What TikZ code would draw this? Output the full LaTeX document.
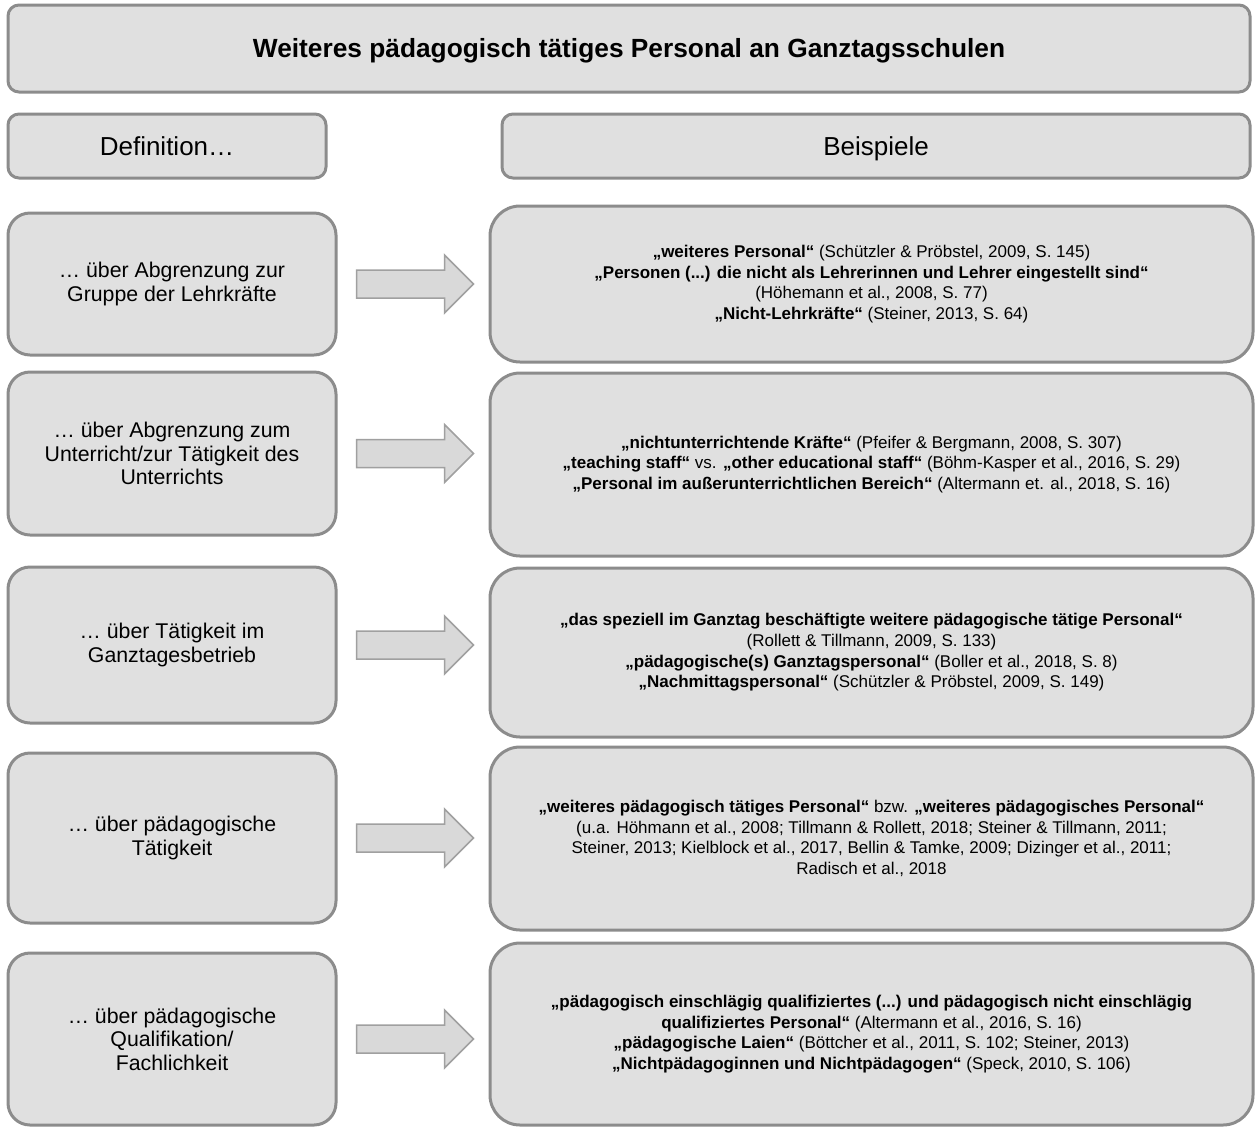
\documentclass[tikz,border=0pt]{standalone}
\usepackage{fontspec}
\setmainfont{Liberation Sans}
\definecolor{boxfill}{HTML}{E0E0E0}
\definecolor{boxline}{HTML}{8C8C8C}
\definecolor{arrowfill}{HTML}{D9D9D9}
\definecolor{arrowline}{HTML}{A0A0A0}
\begin{document}
\begin{tikzpicture}[x=1pt,y=-1pt,
  panel/.style={draw=boxline, fill=boxfill, line width=3pt, align=center, inner sep=0pt},
  headbox/.style={panel, rounded corners=11pt, text depth=0pt},
  defbox/.style={panel, rounded corners=22pt, minimum width=328pt,
    font=\fontsize{21.3}{23.5}\selectfont},
  exbox/.style={panel, rounded corners=30pt, minimum width=763pt,
    font=\fontsize{17}{20.6}\selectfont},
  blockarrow/.style={draw=arrowline, fill=arrowfill, line width=1.5pt, line join=miter}
]
\useasboundingbox (0,0) rectangle (1258,1128);

% title and column headings
\node[headbox, minimum width=1242pt, minimum height=87pt, text height=17pt,
  font=\bfseries\fontsize{26.3}{30}\selectfont] (title) at (629,48.5)
  {Weiteres pädagogisch tätiges Personal an Ganztagsschulen};
\node[headbox, minimum width=318pt, minimum height=64pt, text height=18.5pt,
  font=\fontsize{26}{30}\selectfont] (hdef) at (167,146) {Definition…};
\node[headbox, minimum width=748pt, minimum height=64pt, text height=18.5pt,
  font=\fontsize{26}{30}\selectfont] (hex) at (876,146) {Beispiele};

% definitions (left column)
\node[defbox, minimum height=142pt] (d1) at (172,284)
  {… über Abgrenzung zur\\Gruppe der Lehrkräfte};
\node[defbox, minimum height=163pt] (d2) at (172,453.5)
  {… über Abgrenzung zum\\Unterricht/zur Tätigkeit des\\Unterrichts};
\node[defbox, minimum height=156pt] (d3) at (172,645)
  {… über Tätigkeit im\\Ganztagesbetrieb};
\node[defbox, minimum height=170pt] (d4) at (172,838)
  {… über pädagogische\\Tätigkeit};
\node[defbox, minimum height=172pt] (d5) at (172,1039)
  {… über pädagogische\\Qualifikation/\\Fachlichkeit};

% examples (right column)
\node[exbox, minimum height=156pt] (e1) at (871.5,284)
  {\textbf{„weiteres Personal“} (Schützler \& Pröbstel, 2009, S. 145)\\
   \textbf{„Personen (...) die nicht als Lehrerinnen und Lehrer eingestellt sind“}\\
   (Höhemann et al., 2008, S. 77)\\
   \textbf{„Nicht-Lehrkräfte“} (Steiner, 2013, S. 64)};
\node[exbox, minimum height=183pt] (e2) at (871.5,464.5)
  {\textbf{„nichtunterrichtende Kräfte“} (Pfeifer \& Bergmann, 2008, S. 307)\\
   \textbf{„teaching staff“} vs. \textbf{„other educational staff“} (Böhm-Kasper et al., 2016, S. 29)\\
   \textbf{„Personal im außerunterrichtlichen Bereich“} (Altermann et. al., 2018, S. 16)};
\node[exbox, minimum height=169pt] (e3) at (871.5,652.5)
  {\textbf{„das speziell im Ganztag beschäftigte weitere pädagogische tätige Personal“}\\
   (Rollett \& Tillmann, 2009, S. 133)\\
   \textbf{„pädagogische(s) Ganztagspersonal“} (Boller et al., 2018, S. 8)\\
   \textbf{„Nachmittagspersonal“} (Schützler \& Pröbstel, 2009, S. 149)};
\node[exbox, minimum height=183pt] (e4) at (871.5,838.5)
  {\textbf{„weiteres pädagogisch tätiges Personal“} bzw. \textbf{„weiteres pädagogisches Personal“}\\
   (u.a. Höhmann et al., 2008; Tillmann \& Rollett, 2018; Steiner \& Tillmann, 2011;\\
   Steiner, 2013; Kielblock et al., 2017, Bellin \& Tamke, 2009; Dizinger et al., 2011;\\
   Radisch et al., 2018};
\node[exbox, minimum height=182pt] (e5) at (871.5,1034)
  {\textbf{„pädagogisch einschlägig qualifiziertes (...) und pädagogisch nicht einschlägig}\\
   \textbf{qualifiziertes Personal“} (Altermann et al., 2016, S. 16)\\
   \textbf{„pädagogische Laien“} (Böttcher et al., 2011, S. 102; Steiner, 2013)\\
   \textbf{„Nichtpädagoginnen und Nichtpädagogen“} (Speck, 2010, S. 106)};

% block arrows from each definition to its examples
\foreach \d in {d1,d2,d3,d4,d5}{
  \draw[blockarrow] ([xshift=19pt,yshift=14pt]\d.east) -- ++(88,0) -- ++(0,-15)
    -- ++(29,29) -- ++(-29,29) -- ++(0,-15) -- ++(-88,0) -- cycle;
}
\end{tikzpicture}
\end{document}
